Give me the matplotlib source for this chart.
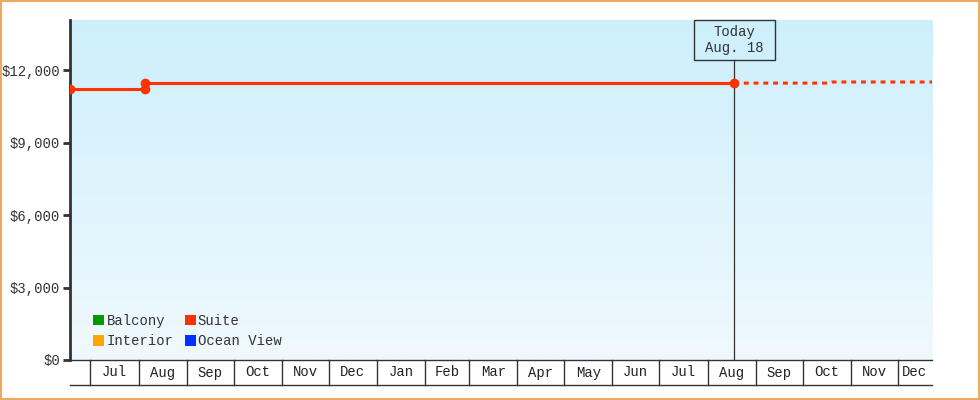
import numpy as np
import matplotlib
matplotlib.use("Agg")
from matplotlib import pyplot as plt
import matplotlib.dates as mdates
from matplotlib.patches import Patch, Rectangle
from datetime import date

# price history (Suite) and forecast
actual_dates = [date(2024, 6, 18), date(2024, 8, 5), date(2024, 8, 5), date(2025, 8, 18)]
actual_prices = [11199, 11199, 11459, 11459]
forecast_dates = [date(2025, 8, 18), date(2025, 10, 17), date(2025, 10, 20), date(2025, 12, 23)]
forecast_prices = [11459, 11459, 11504, 11504]

today = date(2025, 8, 18)
today_label = "Today\nAug. 18"
x_start, x_end = date(2024, 6, 18), date(2025, 12, 23)
y_max = 14070
y_ticks = [0, 3000, 6000, 9000, 12000]

legend_names = ["Balcony", "Interior", "Suite", "Ocean View"]
legend_colors = ["#009900", "#ffa500", "#ff3300", "#0033ff"]

dark = "#333333"
plt.rcParams['font.family'] = ['Liberation Mono', 'DejaVu Sans Mono']
plt.rcParams['font.size'] = 10

fig = plt.figure(figsize=(9.8, 4.0), dpi=100)
ax = fig.add_axes([70/980, 40/400, 862/980, 340/400])

# gradient background
grad = np.linspace(0, 1, 256).reshape(-1, 1)
top_c = np.array([205, 239, 252]) / 255
bot_c = np.array([240, 249, 254]) / 255
img = top_c[None, None, :] * (1 - grad[..., None]) + bot_c[None, None, :] * grad[..., None]
ax.imshow(img, extent=[0, 1, 0, 1], transform=ax.transAxes, aspect='auto', zorder=0)

xs = mdates.date2num(x_start)
xe = mdates.date2num(x_end)
ax.set_xlim(xs, xe)
ax.set_ylim(0, y_max)

# lines
red = "#ff3300"
ax.plot(mdates.date2num(forecast_dates), forecast_prices, color=red, lw=2.2,
        linestyle=(0, (1.6, 1.6)), zorder=3)
ax.plot(mdates.date2num(actual_dates), actual_prices, color=red, lw=2.2,
        marker='o', markersize=6, zorder=4)

# today marker
t = mdates.date2num(today)
tf = (t - xs) / (xe - xs)
box_bottom = (360 - 60) / 340
ax.plot([tf, tf], [0, box_bottom], transform=ax.transAxes, color=dark, lw=0.9, zorder=2)
ax.add_patch(Rectangle((tf - 40.5 / 862, box_bottom), 81 / 862, 1 - box_bottom, transform=ax.transAxes,
                       fill=False, ec=dark, lw=1, clip_on=False, zorder=5))
ax.text(tf, (360 - 40) / 340, today_label, transform=ax.transAxes, ha='center', va='center',
        color=dark, linespacing=1.2)

# axes styling
for s in ['top', 'right', 'bottom']:
    ax.spines[s].set_visible(False)
ax.spines['left'].set_color(dark)
ax.spines['left'].set_linewidth(2)
ax.set_yticks(y_ticks)
ax.set_yticklabels(["$" + format(v, ",") for v in y_ticks])
ax.tick_params(axis='y', colors=dark, length=5, width=2, pad=2)
ax.set_xticks([])

# month band
trans = ax.get_xaxis_transform()
band = -25 / 340
ax.plot([0, 1], [0, 0], transform=ax.transAxes, color=dark, lw=1, clip_on=False)
ax.plot([0, 1], [band, band], transform=ax.transAxes, color=dark, lw=1, clip_on=False)
months = []
y, m = 2024, 7
while date(y, m, 1) < x_end:
    months.append(date(y, m, 1))
    m += 1
    if m > 12:
        m, y = 1, y + 1
for i, d in enumerate(months):
    a = mdates.date2num(d)
    b = mdates.date2num(months[i + 1]) if i + 1 < len(months) else xe
    b = min(b, xe)
    ax.plot([a, a], [0, band], transform=trans, color=dark, lw=1, clip_on=False)
    ax.text((a + b) / 2, band / 2, d.strftime("%b"), transform=trans, ha='center', va='center',
            color="#222222")

# legend
handles = [Patch(facecolor=c, edgecolor='none') for c in legend_colors]
leg = ax.legend(handles, legend_names, ncol=2, loc='lower left', bbox_to_anchor=(0.027, 0.035),
                frameon=False, handlelength=0.8, handleheight=0.8, handletextpad=0.15,
                columnspacing=0.8, labelspacing=0.45, borderpad=0, borderaxespad=0)
for txt in leg.get_texts():
    txt.set_color(dark)

# orange frame
fig.patches.append(Rectangle((0.001, 0.002), 0.998, 0.996, transform=fig.transFigure,
                             fill=False, ec="#eeaa60", lw=1.5))

fig.savefig("out.png", dpi=100)
